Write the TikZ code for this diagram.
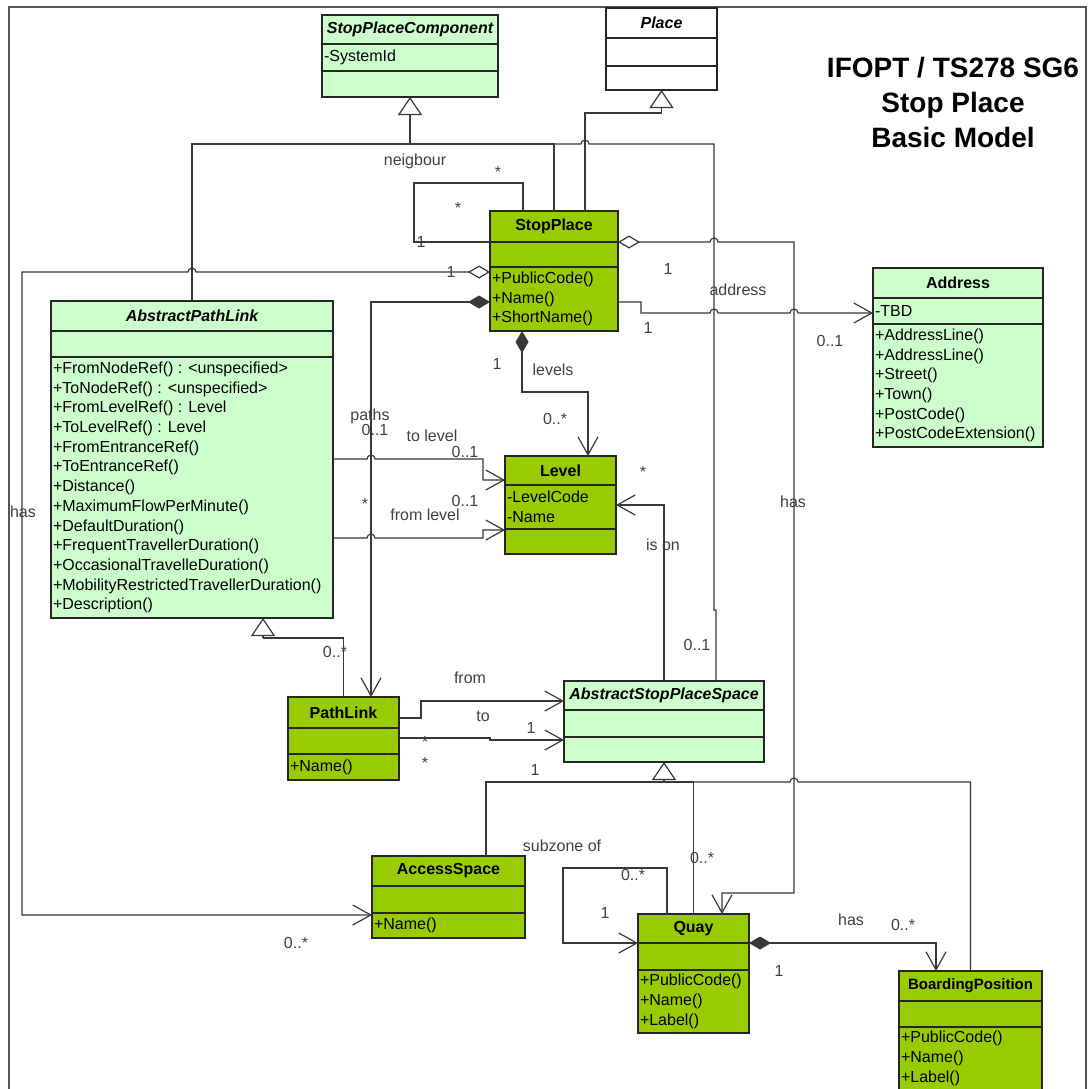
\documentclass[tikz,border=0pt]{standalone}
\usepackage{fontspec}
\setmainfont{Liberation Sans}
\usetikzlibrary{positioning, calc, arrows.meta, shapes.multipart}
\definecolor{Lime}{HTML}{99CC00}
\definecolor{Pale}{HTML}{CCFFCC}
\definecolor{Edge}{HTML}{262626}
\definecolor{Wire}{HTML}{383838}
\definecolor{Note}{HTML}{404040}
\definecolor{Frame}{HTML}{555555}
\newcommand{\umlsize}{\fontsize{16}{19.7}\selectfont}
\newcommand{\cname}[3]{\parbox[t][\dimexpr#2pt-1.3pt\relax][c]{#1pt}{\centering\bfseries #3}}
\newcommand{\cbody}[3]{\parbox[t][\dimexpr#2pt-1.3pt\relax][c]{#1pt}{\raggedright\leftskip=2pt\relax #3}}
\tikzset{
    umlclass/.style={rectangle split, rectangle split parts=3, draw=Edge, line width=1.3pt, inner sep=0pt, outer sep=0pt, anchor=north west, font=\umlsize, text=black},
    paleclass/.style={umlclass, fill=Pale},
    limeclass/.style={umlclass, fill=Lime},
    plainclass/.style={umlclass, fill=white},
    link/.style={draw=Wire, line width=1.2pt},
    navarrow/.style={link, -{Straight Barb[length=18pt, width=20pt]}},
    genarrow/.style={link, -{Triangle[open, length=18pt, width=24pt]}},
    aggrnav/.style={link, {Diamond[open, length=22pt, width=13pt]}-{Straight Barb[length=18pt, width=20pt]}},
    compnav/.style={link, {Diamond[length=22pt, width=13pt]}-{Straight Barb[length=18pt, width=20pt]}},
    mult/.style={font=\umlsize, text=Note, inner sep=0pt},
}
\begin{document}
\begin{tikzpicture}[x=1pt, y=-1pt]
    \useasboundingbox (0,0) rectangle (1089,1088);
    \draw[Frame, line width=1.5pt] (9,1100) -- (9,7) -- (1086,7) -- (1086,1100);

    % titolo
    \node[font={\fontsize{28}{35}\selectfont\bfseries}, align=center] (title) at (953,102) {IFOPT / TS278 SG6\\Stop Place\\Basic Model};

    % classi
    \node[paleclass] (spc) at (322,15) {\cname{176}{29}{\itshape StopPlaceComponent}\nodepart{two}\cbody{176}{27}{-SystemId}\nodepart{three}\cbody{176}{26}{}};
    \node[plainclass] (place) at (606,8) {\cname{111}{30}{\itshape Place}\nodepart{two}\cbody{111}{28}{}\nodepart{three}\cbody{111}{24}{}};
    \node[limeclass] (sp) at (490,211) {\cname{128}{31}{StopPlace}\nodepart{two}\cbody{128}{25}{}\nodepart{three}\cbody{128}{64}{+PublicCode()\\+Name()\\+ShortName()}};
    \node[paleclass] (apl) at (51,301) {\cname{282}{30}{\itshape AbstractPathLink}\nodepart{two}\cbody{282}{26}{}\nodepart{three}\cbody{282}{261}{+FromNodeRef() : <unspecified>\\+ToNodeRef() : <unspecified>\\+FromLevelRef() : Level\\+ToLevelRef() : Level\\+FromEntranceRef()\\+ToEntranceRef()\\+Distance()\\+MaximumFlowPerMinute()\\+DefaultDuration()\\+FrequentTravellerDuration()\\+OccasionalTravelleDuration()\\+MobilityRestrictedTravellerDuration()\\+Description()}};
    \node[paleclass] (addr) at (873,268) {\cname{170}{30}{Address}\nodepart{two}\cbody{170}{26}{-TBD}\nodepart{three}\cbody{170}{123}{+AddressLine()\\+AddressLine()\\+Street()\\+Town()\\+PostCode()\\+PostCodeExtension()}};
    \node[limeclass] (lvl) at (505,456) {\cname{111}{29}{Level}\nodepart{two}\cbody{111}{44}{-LevelCode\\-Name}\nodepart{three}\cbody{111}{25}{}};
    \node[limeclass] (pl) at (288,697) {\cname{111}{31}{PathLink}\nodepart{two}\cbody{111}{26}{}\nodepart{three}\cbody{111}{26}{+Name()}};
    \node[paleclass] (asps) at (564,681) {\cname{200}{29}{\itshape AbstractStopPlaceSpace}\nodepart{two}\cbody{200}{27}{}\nodepart{three}\cbody{200}{25}{}};
    \node[limeclass] (acc) at (372,856) {\cname{153}{30}{AccessSpace}\nodepart{two}\cbody{153}{27}{}\nodepart{three}\cbody{153}{25}{+Name()}};
    \node[limeclass] (quay) at (638,914) {\cname{111}{29}{Quay}\nodepart{two}\cbody{111}{27}{}\nodepart{three}\cbody{111}{63}{+PublicCode()\\+Name()\\+Label()}};
    \node[limeclass] (bp) at (899,971) {\cname{143}{30}{\fontsize{15}{18}\selectfont BoardingPosition}\nodepart{two}\cbody{143}{26}{}\nodepart{three}\cbody{143}{63}{+PublicCode()\\+Name()\\+Label()}};

    % punti di raccordo
    \coordinate (spcfoot) at ($(spc.south)+(0,47)$);
    \coordinate (placefoot) at ($(place.south)+(0,23)$);
    \coordinate (aplfoot) at ($([xshift=212pt]apl.south west)+(0,20)$);
    \coordinate (aspsfoot) at ($(asps.south)+(0,20)$);

    % generalizzazioni
    \draw[link] (sp.north) |- (spcfoot);
    \draw[link] (apl.north) |- (spcfoot);
    \draw[link] ([xshift=152pt]asps.north west) -- (716,610) -- (714,610) -- ($(spcfoot)+(304,0)$) -- ($(spcfoot)+(179,0)$) arc[start angle=0, end angle=180, radius=4pt] -- (spcfoot);
    \draw[genarrow] (spcfoot) -- (spc.south);
    \draw[link] ([xshift=95pt]sp.north west) |- (placefoot);
    \draw[genarrow] (placefoot) -- (place.south);
    \draw[link] (pl.north) |- (aplfoot);
    \draw[genarrow] (aplfoot) -- ([xshift=212pt]apl.south west);
    \draw[link] ([xshift=114pt]acc.north west) |- (aspsfoot);
    \draw[link] (quay.north) |- (aspsfoot);
    \draw[link] (bp.north) -- (bp.north |- aspsfoot) -- ($(aspsfoot)+(134,0)$) arc[start angle=0, end angle=180, radius=4pt] -- (aspsfoot);
    \draw[genarrow] (aspsfoot) -- (asps.south);

    % associazioni
    \draw[link] ([xshift=33pt]sp.north west) -- (523,183) -- (414,183) -- (414,242) -- ([yshift=-31pt]sp.north west);
    \draw[aggrnav] ([yshift=-61pt]sp.north west) -- (196,272) arc[start angle=0, end angle=180, radius=4pt] -- (22,272) -- (22,915) -- ([yshift=-59pt]acc.north west);
    \draw[compnav] ([yshift=-91pt]sp.north west) -- (371,302) -- ([xshift=83pt]pl.north west);
    \draw[aggrnav] ([yshift=-31pt]sp.north east) -- (710,242) arc[start angle=180, end angle=0, radius=4pt] -- (794,242) -- (794,893) -- (722,893) -- ([xshift=84pt]quay.north west);
    \draw[navarrow] ([yshift=-91pt]sp.north east) -- (641,302) -- (641,313) -- (710,313) arc[start angle=180, end angle=0, radius=4pt] -- (790,313) arc[start angle=180, end angle=0, radius=4pt] -- ([yshift=-45pt]addr.north west);
    \draw[compnav] ([xshift=32pt]sp.south west) -- (522,392) -- (588,392) -- ([xshift=83pt]lvl.north west);
    \draw[navarrow] ([yshift=-158pt]apl.north east) -- (367,459) arc[start angle=180, end angle=0, radius=4pt] -- (483,459) -- (483,480) -- ([yshift=-24pt]lvl.north west);
    \draw[navarrow] ([yshift=-237pt]apl.north east) -- (367,538) arc[start angle=180, end angle=0, radius=4pt] -- (483,538) -- (483,530) -- ([yshift=-74pt]lvl.north west);
    \draw[navarrow] (asps.north) -- (asps.north |- 0,505) -- ([yshift=-49pt]lvl.north east);
    \draw[navarrow] ([yshift=-21pt]pl.north east) -- (421,718) -- (421,701) -- ([yshift=-20pt]asps.north west);
    \draw[navarrow] ([yshift=-41pt]pl.north east) -- (490,738) -- (490,740) -- ([yshift=-59pt]asps.north west);
    \draw[navarrow] ([xshift=29pt]quay.north west) -- (667,868) -- (563,868) -- (563,943) -- ([yshift=-29pt]quay.north west);
    \draw[compnav] ([yshift=-29pt]quay.north east) -- (936,943) -- ([xshift=37pt]bp.north west);

    % etichette e molteplicita
    \node[mult] (neighlbl) at (415,161) {neigbour};
    \node[mult] (neighm1) at (498,172) {*};
    \node[mult] (neighm2) at (458,208) {*};
    \node[mult] (neighm3) at (421,242) {1};
    \node[mult] (hasaccm1) at (451,272) {1};
    \node[mult] (hasacclbl) at (23,512) {has};
    \node[mult] (hasaccm2) at (296,943) {0..*};
    \node[mult] (pathslbl) at (370,416) {paths};
    \node[mult] (pathsm1) at (375,430) {0..1};
    \node[mult] (pathsm2) at (365,504) {*};
    \node[mult] (hasquaym) at (668,269) {1};
    \node[mult] (hasquaylbl) at (793,502) {has};
    \node[mult] (addrlbl) at (738,290) {address};
    \node[mult] (addrm1) at (648,328) {1};
    \node[mult] (addrm2) at (830,341) {0..1};
    \node[mult] (lvlm1) at (497,364) {1};
    \node[mult] (lvllbl) at (553,370) {levels};
    \node[mult] (lvlm2) at (555,419) {0..*};
    \node[mult] (tolvllbl) at (432,436) {to level};
    \node[mult] (tolvlm) at (465,452) {0..1};
    \node[mult] (fromlvlm) at (465,501) {0..1};
    \node[mult] (fromlvllbl) at (425,515) {from level};
    \node[mult] (isonm) at (643,472) {*};
    \node[mult] (isonlbl) at (663,545) {is on};
    \node[mult] (spcm) at (697,645) {0..1};
    \node[mult] (aplm) at (335,652) {0..*};
    \node[mult] (fromlbl) at (470,678) {from};
    \node[mult] (tolbl) at (483,716) {to};
    \node[mult] (tom1) at (531,728) {1};
    \node[mult] (tom2) at (425,742) {*};
    \node[mult] (fromm2) at (425,763) {*};
    \node[mult] (fromm1) at (535,770) {1};
    \node[mult] (subzonelbl) at (562,846) {subzone of};
    \node[mult] (quaygenm) at (702,858) {0..*};
    \node[mult] (loopm1) at (633,875) {0..*};
    \node[mult] (loopm2) at (605,913) {1};
    \node[mult] (bplbl) at (851,920) {has};
    \node[mult] (bpm1) at (903,925) {0..*};
    \node[mult] (bpm2) at (779,971) {1};
\end{tikzpicture}
\end{document}
